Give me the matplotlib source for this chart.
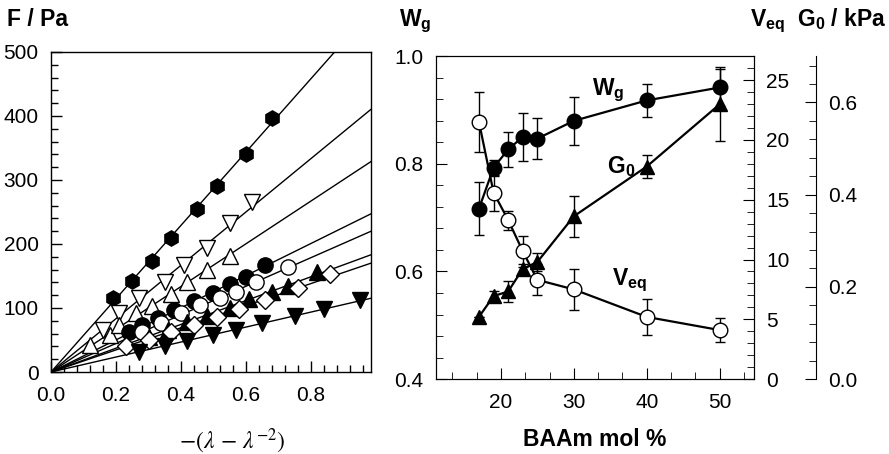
import numpy as np
import matplotlib
matplotlib.use("Agg")
import matplotlib.pyplot as plt
from matplotlib.ticker import MultipleLocator, FormatStrFormatter

plt.rcParams['font.family'] = ['Liberation Sans', 'DejaVu Sans']
plt.rcParams['mathtext.fontset'] = 'custom'
plt.rcParams['mathtext.rm'] = 'Liberation Sans'
plt.rcParams['mathtext.bf'] = 'Liberation Sans:bold'
plt.rcParams['mathtext.it'] = 'Liberation Sans:italic'

# ---------------- Left panel data: F vs -(lambda - lambda^-2) ----------------
x_hex = [0.19, 0.25, 0.31, 0.37, 0.45, 0.51, 0.60, 0.68]
F_hex = [115, 142, 173, 210, 254, 291, 341, 397]

x_vopen = [0.16, 0.21, 0.27, 0.35, 0.41, 0.48, 0.55, 0.62]
F_vopen = [65, 92, 115, 140, 167, 193, 232, 265]

x_topen = [0.12, 0.18, 0.21, 0.26, 0.31, 0.37, 0.42, 0.48, 0.55]
F_topen = [42, 58, 73, 92, 103, 122, 140, 160, 182]

x_cfill = [0.24, 0.28, 0.33, 0.38, 0.44, 0.50, 0.55, 0.60, 0.66]
F_cfill = [62, 73, 84, 97, 111, 123, 137, 148, 167]

x_copen = [0.28, 0.34, 0.40, 0.46, 0.52, 0.57, 0.63, 0.73]
F_copen = [62, 76, 92, 104, 115, 125, 140, 164]

x_tfill = [0.30, 0.36, 0.42, 0.48, 0.55, 0.61, 0.68, 0.73, 0.82]
F_tfill = [55, 66, 78, 88, 100, 114, 125, 135, 157]

x_dia = [0.23, 0.30, 0.37, 0.44, 0.51, 0.58, 0.66, 0.76, 0.86]
F_dia = [40, 50, 62, 74, 86, 99, 113, 132, 153]

x_vfill = [0.27, 0.35, 0.42, 0.50, 0.57, 0.65, 0.75, 0.84, 0.95]
F_vfill = [31, 40, 48, 58, 66, 76, 88, 98, 113]

left_series = [
    (x_hex, F_hex, 'h', 'black'),
    (x_vopen, F_vopen, 'v', 'white'),
    (x_topen, F_topen, '^', 'white'),
    (x_cfill, F_cfill, 'o', 'black'),
    (x_copen, F_copen, 'o', 'white'),
    (x_tfill, F_tfill, '^', 'black'),
    (x_dia, F_dia, 'D', 'white'),
    (x_vfill, F_vfill, 'v', 'black'),
]

# ---------------- Right panel data ----------------
baam = [17, 19, 21, 23, 25, 30, 40, 50]
Wg = [0.717, 0.793, 0.827, 0.850, 0.847, 0.880, 0.918, 0.942]
Wg_err = [0.050, 0.015, 0.033, 0.044, 0.038, 0.044, 0.030, 0.035]
Veq = [21.5, 15.6, 13.3, 10.7, 8.3, 7.5, 5.2, 4.1]
Veq_err = [2.5, 1.5, 0.8, 1.3, 1.3, 1.75, 1.5, 1.0]
G0 = [0.135, 0.180, 0.190, 0.239, 0.254, 0.353, 0.461, 0.596]
G0_err = [0.0, 0.01, 0.022, 0.01, 0.02, 0.045, 0.025, 0.08]

TICK_FS = 15
LAB_FS = 16.5

fig = plt.figure(figsize=(8.89, 4.54), dpi=100)

# ---------------- Left panel ----------------
axL = fig.add_axes([0.0574, 0.1806, 0.36, 0.705])
xmax = 0.985
xx = np.linspace(0, 1.2, 50)
for xs, Fs, m, fc in left_series:
    xs_a = np.array(xs, float)
    Fs_a = np.array(Fs, float)
    slope = np.sum(xs_a * Fs_a) / np.sum(xs_a ** 2)
    axL.plot(xx, slope * xx, color='black', lw=1.0, zorder=2)
for xs, Fs, m, fc in left_series:
    ms = 9.5 if m == 'D' else 11
    axL.plot(xs, Fs, ls='none', marker=m, ms=ms, mfc=fc, mec='black',
             mew=1.0, zorder=3)
axL.set_xlim(0, xmax)
axL.set_ylim(0, 500)
axL.xaxis.set_major_locator(MultipleLocator(0.2))
axL.xaxis.set_minor_locator(MultipleLocator(0.04))
axL.yaxis.set_major_locator(MultipleLocator(100))
axL.yaxis.set_minor_locator(MultipleLocator(20))
axL.xaxis.set_major_formatter(FormatStrFormatter('%.1f'))
axL.tick_params(which='both', direction='in', top=False, right=False,
                labelsize=TICK_FS, width=1.0)
axL.tick_params(which='major', length=8)
axL.tick_params(which='minor', length=5)
axL.tick_params(axis='x', which='major', pad=10)
axL.tick_params(axis='y', which='major', pad=9)
for s in axL.spines.values():
    s.set_linewidth(1.0)
fig.text(232 / 889, 1 - 441 / 454, r'$-(\lambda\,-\,\lambda^{-2})$',
         ha='center', va='center', fontsize=17, math_fontfamily='stix')
fig.text(0.008, 0.942, 'F / Pa', fontsize=LAB_FS, fontweight='bold',
         ha='left', va='baseline')

# ---------------- Right panel ----------------
axR = fig.add_axes([0.4904, 0.165, 0.3577, 0.711])
axV = axR.twinx()
axG = axR.twinx()
axG.spines['right'].set_position(('axes', 1.195))
for sp in ('top', 'bottom', 'left'):
    axG.spines[sp].set_visible(False)
axG.patch.set_visible(False)
axV.patch.set_visible(False)

ekw = dict(ecolor='black', elinewidth=1.0, capsize=3.5, capthick=1.0)
axR.errorbar(baam, Wg, yerr=Wg_err, color='black', lw=1.6, marker='o', ms=10.5,
             mfc='black', mec='black', zorder=3, **ekw)
axV.errorbar(baam, Veq, yerr=Veq_err, color='black', lw=1.6, marker='o', ms=10.5,
             mfc='white', mec='black', mew=1.0, zorder=3, **ekw)
axG.errorbar(baam, G0, yerr=G0_err, color='black', lw=1.6, marker='^', ms=10.5,
             mfc='black', mec='black', zorder=3, **ekw)

axR.set_xlim(11.1, 54.7)
axR.set_ylim(0.4, 1.0)
axV.set_ylim(0, 27)
axG.set_ylim(0, 0.7)

axR.xaxis.set_major_locator(MultipleLocator(10))
axR.xaxis.set_minor_locator(MultipleLocator(10 / 3))
axR.yaxis.set_major_locator(MultipleLocator(0.2))
axR.yaxis.set_minor_locator(MultipleLocator(0.04))
axR.yaxis.set_major_formatter(FormatStrFormatter('%.1f'))
axV.yaxis.set_major_locator(MultipleLocator(5))
axV.yaxis.set_minor_locator(MultipleLocator(1))
axG.yaxis.set_major_locator(MultipleLocator(0.2))
axG.yaxis.set_minor_locator(MultipleLocator(0.04))
axG.yaxis.set_major_formatter(FormatStrFormatter('%.1f'))

axR.tick_params(which='both', direction='in', top=False, right=False,
                labelsize=TICK_FS)
axR.tick_params(which='major', length=8)
axR.tick_params(which='minor', length=5)
axR.tick_params(axis='x', which='major', pad=10)
axR.tick_params(axis='y', which='major', pad=9)
for a in (axV, axG):
    a.tick_params(which='both', direction='in', labelsize=TICK_FS)
    a.tick_params(which='major', length=8, pad=9)
    a.tick_params(which='minor', length=5)

fig.text(595 / 889, 1 - 439 / 454, 'BAAm mol %', fontsize=LAB_FS,
         fontweight='bold', ha='center', va='center')

axR.text(0.49, 0.879, r'$\mathbf{W}_{\mathbf{g}}$', transform=axR.transAxes,
         fontsize=LAB_FS, ha='left', va='baseline')
axR.text(0.538, 0.638, r'$\mathbf{G}_{\mathbf{0}}$', transform=axR.transAxes,
         fontsize=LAB_FS, ha='left', va='baseline')
axR.text(0.553, 0.291, r'$\mathbf{V}_{\mathbf{eq}}$', transform=axR.transAxes,
         fontsize=LAB_FS, ha='left', va='baseline')

fig.text(399 / 889, 0.942, r'$\mathbf{W}_{\mathbf{g}}$', fontsize=LAB_FS,
         ha='left', va='baseline')
fig.text(750 / 889, 0.942, r'$\mathbf{V}_{\mathbf{eq}}$', fontsize=LAB_FS,
         ha='left', va='baseline')
fig.text(886 / 889, 0.942, r'$\mathbf{G}_{\mathbf{0}}$' + r'$\mathbf{\ /\ kPa}$',
         fontsize=LAB_FS, ha='right', va='baseline')

fig.savefig('out.png', dpi=100)
